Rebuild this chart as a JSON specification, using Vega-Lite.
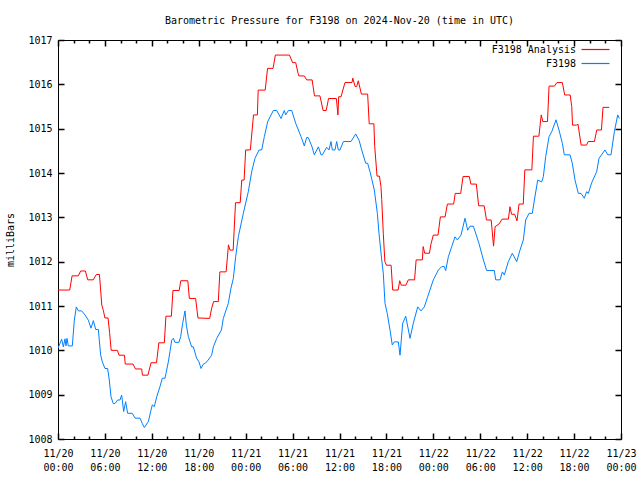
{
  "$schema": "https://vega.github.io/schema/vega-lite/v6.json",
  "width": 563,
  "height": 399,
  "autosize": "none",
  "padding": {"left": 58, "top": 40, "right": 19, "bottom": 41},
  "background": "white",
  "title": {"text": "Barometric Pressure for F3198 on 2024-Nov-20 (time in UTC)", "font": "DejaVu Sans Mono", "fontSize": 10, "fontWeight": "normal", "color": "black", "anchor": "middle", "offset": 9},
  "config": {
    "font": "DejaVu Sans Mono",
    "view": {"stroke": "black", "strokeWidth": 1},
    "axis": {"domain": false, "grid": false, "ticks": true, "tickColor": "#000000", "tickOpacity": 1, "labelColor": "black", "labelFont": "DejaVu Sans Mono", "labelFontSize": 10, "titleFont": "DejaVu Sans Mono", "titleFontSize": 10, "titleFontWeight": "normal", "titleColor": "black", "tickWidth": 1}
  },
  "data": {"values": [
    {"s":"F3198 Analysis","h":0,"v":1011.36},{"s":"F3198 Analysis","h":1.5,"v":1011.36},{"s":"F3198 Analysis","h":1.8,"v":1011.68},{"s":"F3198 Analysis","h":2.6,"v":1011.68},{"s":"F3198 Analysis","h":2.9,"v":1011.79},{"s":"F3198 Analysis","h":3.5,"v":1011.79},{"s":"F3198 Analysis","h":3.8,"v":1011.59},{"s":"F3198 Analysis","h":4.5,"v":1011.59},{"s":"F3198 Analysis","h":4.9,"v":1011.71},{"s":"F3198 Analysis","h":5.3,"v":1011.71},{"s":"F3198 Analysis","h":5.6,"v":1011.02},{"s":"F3198 Analysis","h":5.8,"v":1010.9},{"s":"F3198 Analysis","h":6.0,"v":1010.73},{"s":"F3198 Analysis","h":6.4,"v":1010.73},{"s":"F3198 Analysis","h":6.6,"v":1010.4},{"s":"F3198 Analysis","h":6.8,"v":1010.0},{"s":"F3198 Analysis","h":7.6,"v":1010.0},{"s":"F3198 Analysis","h":7.8,"v":1009.89},{"s":"F3198 Analysis","h":8.5,"v":1009.89},{"s":"F3198 Analysis","h":8.6,"v":1009.69},{"s":"F3198 Analysis","h":9.6,"v":1009.69},{"s":"F3198 Analysis","h":9.9,"v":1009.58},{"s":"F3198 Analysis","h":10.7,"v":1009.58},{"s":"F3198 Analysis","h":10.8,"v":1009.44},{"s":"F3198 Analysis","h":11.5,"v":1009.44},{"s":"F3198 Analysis","h":11.9,"v":1009.72},{"s":"F3198 Analysis","h":12.6,"v":1009.72},{"s":"F3198 Analysis","h":12.9,"v":1010.17},{"s":"F3198 Analysis","h":13.6,"v":1010.17},{"s":"F3198 Analysis","h":13.8,"v":1010.77},{"s":"F3198 Analysis","h":14.5,"v":1010.77},{"s":"F3198 Analysis","h":14.7,"v":1011.35},{"s":"F3198 Analysis","h":15.5,"v":1011.35},{"s":"F3198 Analysis","h":15.7,"v":1011.57},{"s":"F3198 Analysis","h":16.6,"v":1011.57},{"s":"F3198 Analysis","h":16.8,"v":1011.17},{"s":"F3198 Analysis","h":17.6,"v":1011.17},{"s":"F3198 Analysis","h":17.9,"v":1010.73},{"s":"F3198 Analysis","h":19.4,"v":1010.72},{"s":"F3198 Analysis","h":19.65,"v":1010.95},{"s":"F3198 Analysis","h":19.9,"v":1011.1},{"s":"F3198 Analysis","h":20.5,"v":1011.1},{"s":"F3198 Analysis","h":20.7,"v":1011.77},{"s":"F3198 Analysis","h":21.5,"v":1011.77},{"s":"F3198 Analysis","h":21.8,"v":1012.38},{"s":"F3198 Analysis","h":22.0,"v":1012.26},{"s":"F3198 Analysis","h":22.4,"v":1012.26},{"s":"F3198 Analysis","h":22.7,"v":1013.33},{"s":"F3198 Analysis","h":23.3,"v":1013.33},{"s":"F3198 Analysis","h":23.5,"v":1013.84},{"s":"F3198 Analysis","h":23.8,"v":1013.84},{"s":"F3198 Analysis","h":24.0,"v":1014.52},{"s":"F3198 Analysis","h":24.6,"v":1014.52},{"s":"F3198 Analysis","h":25.0,"v":1015.31},{"s":"F3198 Analysis","h":25.5,"v":1015.31},{"s":"F3198 Analysis","h":25.6,"v":1015.87},{"s":"F3198 Analysis","h":26.5,"v":1015.87},{"s":"F3198 Analysis","h":26.8,"v":1016.36},{"s":"F3198 Analysis","h":27.5,"v":1016.36},{"s":"F3198 Analysis","h":27.8,"v":1016.66},{"s":"F3198 Analysis","h":29.6,"v":1016.66},{"s":"F3198 Analysis","h":30.0,"v":1016.49},{"s":"F3198 Analysis","h":30.4,"v":1016.49},{"s":"F3198 Analysis","h":30.7,"v":1016.25},{"s":"F3198 Analysis","h":30.8,"v":1016.19},{"s":"F3198 Analysis","h":31.5,"v":1016.19},{"s":"F3198 Analysis","h":31.8,"v":1016.1},{"s":"F3198 Analysis","h":32.5,"v":1016.1},{"s":"F3198 Analysis","h":32.8,"v":1015.74},{"s":"F3198 Analysis","h":33.5,"v":1015.74},{"s":"F3198 Analysis","h":33.9,"v":1015.41},{"s":"F3198 Analysis","h":34.3,"v":1015.41},{"s":"F3198 Analysis","h":34.6,"v":1015.68},{"s":"F3198 Analysis","h":35.6,"v":1015.68},{"s":"F3198 Analysis","h":35.8,"v":1015.31},{"s":"F3198 Analysis","h":35.9,"v":1015.72},{"s":"F3198 Analysis","h":36.2,"v":1015.72},{"s":"F3198 Analysis","h":36.4,"v":1015.85},{"s":"F3198 Analysis","h":36.7,"v":1016.04},{"s":"F3198 Analysis","h":37.6,"v":1016.04},{"s":"F3198 Analysis","h":37.7,"v":1016.14},{"s":"F3198 Analysis","h":38.0,"v":1015.95},{"s":"F3198 Analysis","h":38.2,"v":1015.95},{"s":"F3198 Analysis","h":38.4,"v":1016.08},{"s":"F3198 Analysis","h":38.8,"v":1015.78},{"s":"F3198 Analysis","h":39.6,"v":1015.78},{"s":"F3198 Analysis","h":39.8,"v":1015.11},{"s":"F3198 Analysis","h":40.4,"v":1015.11},{"s":"F3198 Analysis","h":40.5,"v":1014.6},{"s":"F3198 Analysis","h":40.8,"v":1013.93},{"s":"F3198 Analysis","h":41.1,"v":1013.93},{"s":"F3198 Analysis","h":41.3,"v":1013.7},{"s":"F3198 Analysis","h":41.4,"v":1013.4},{"s":"F3198 Analysis","h":41.6,"v":1012.64},{"s":"F3198 Analysis","h":41.8,"v":1012.0},{"s":"F3198 Analysis","h":42.0,"v":1011.92},{"s":"F3198 Analysis","h":42.6,"v":1011.92},{"s":"F3198 Analysis","h":42.8,"v":1011.36},{"s":"F3198 Analysis","h":43.5,"v":1011.36},{"s":"F3198 Analysis","h":43.7,"v":1011.57},{"s":"F3198 Analysis","h":43.9,"v":1011.47},{"s":"F3198 Analysis","h":44.5,"v":1011.47},{"s":"F3198 Analysis","h":44.8,"v":1011.59},{"s":"F3198 Analysis","h":45.6,"v":1011.59},{"s":"F3198 Analysis","h":45.8,"v":1012.04},{"s":"F3198 Analysis","h":46.6,"v":1012.04},{"s":"F3198 Analysis","h":46.7,"v":1012.34},{"s":"F3198 Analysis","h":46.9,"v":1012.19},{"s":"F3198 Analysis","h":47.5,"v":1012.19},{"s":"F3198 Analysis","h":47.7,"v":1012.4},{"s":"F3198 Analysis","h":48.0,"v":1012.6},{"s":"F3198 Analysis","h":48.6,"v":1012.6},{"s":"F3198 Analysis","h":48.9,"v":1013.01},{"s":"F3198 Analysis","h":49.5,"v":1013.01},{"s":"F3198 Analysis","h":49.8,"v":1013.3},{"s":"F3198 Analysis","h":50.6,"v":1013.3},{"s":"F3198 Analysis","h":50.8,"v":1013.54},{"s":"F3198 Analysis","h":51.5,"v":1013.54},{"s":"F3198 Analysis","h":51.8,"v":1013.92},{"s":"F3198 Analysis","h":52.6,"v":1013.92},{"s":"F3198 Analysis","h":52.8,"v":1013.75},{"s":"F3198 Analysis","h":53.5,"v":1013.75},{"s":"F3198 Analysis","h":53.8,"v":1013.26},{"s":"F3198 Analysis","h":54.5,"v":1013.26},{"s":"F3198 Analysis","h":54.8,"v":1012.94},{"s":"F3198 Analysis","h":55.4,"v":1012.94},{"s":"F3198 Analysis","h":55.7,"v":1012.35},{"s":"F3198 Analysis","h":55.9,"v":1012.79},{"s":"F3198 Analysis","h":56.4,"v":1012.85},{"s":"F3198 Analysis","h":56.8,"v":1012.96},{"s":"F3198 Analysis","h":57.6,"v":1012.96},{"s":"F3198 Analysis","h":57.8,"v":1013.24},{"s":"F3198 Analysis","h":58.0,"v":1013.07},{"s":"F3198 Analysis","h":58.4,"v":1013.07},{"s":"F3198 Analysis","h":58.7,"v":1012.92},{"s":"F3198 Analysis","h":58.96,"v":1013.3},{"s":"F3198 Analysis","h":59.5,"v":1013.3},{"s":"F3198 Analysis","h":59.7,"v":1014.07},{"s":"F3198 Analysis","h":60.6,"v":1014.07},{"s":"F3198 Analysis","h":60.8,"v":1014.83},{"s":"F3198 Analysis","h":61.5,"v":1014.83},{"s":"F3198 Analysis","h":61.8,"v":1015.31},{"s":"F3198 Analysis","h":62.0,"v":1015.16},{"s":"F3198 Analysis","h":62.6,"v":1015.16},{"s":"F3198 Analysis","h":62.8,"v":1015.96},{"s":"F3198 Analysis","h":63.5,"v":1015.96},{"s":"F3198 Analysis","h":63.8,"v":1016.04},{"s":"F3198 Analysis","h":64.5,"v":1016.04},{"s":"F3198 Analysis","h":64.8,"v":1015.76},{"s":"F3198 Analysis","h":65.5,"v":1015.76},{"s":"F3198 Analysis","h":65.7,"v":1015.5},{"s":"F3198 Analysis","h":65.8,"v":1015.08},{"s":"F3198 Analysis","h":66.3,"v":1015.08},{"s":"F3198 Analysis","h":66.5,"v":1015.1},{"s":"F3198 Analysis","h":66.9,"v":1014.63},{"s":"F3198 Analysis","h":67.6,"v":1014.63},{"s":"F3198 Analysis","h":67.8,"v":1014.71},{"s":"F3198 Analysis","h":68.6,"v":1014.71},{"s":"F3198 Analysis","h":68.9,"v":1014.97},{"s":"F3198 Analysis","h":69.5,"v":1014.97},{"s":"F3198 Analysis","h":69.7,"v":1015.48},{"s":"F3198 Analysis","h":70.5,"v":1015.48},
    {"s":"F3198","h":0.0,"v":1010.05},{"s":"F3198","h":0.47,"v":1010.25},{"s":"F3198","h":0.68,"v":1010.08},{"s":"F3198","h":0.9,"v":1010.26},{"s":"F3198","h":1.02,"v":1010.1},{"s":"F3198","h":1.15,"v":1010.27},{"s":"F3198","h":1.32,"v":1010.1},{"s":"F3198","h":1.83,"v":1010.1},{"s":"F3198","h":2.09,"v":1010.68},{"s":"F3198","h":2.34,"v":1010.98},{"s":"F3198","h":2.6,"v":1010.89},{"s":"F3198","h":3.03,"v":1010.89},{"s":"F3198","h":3.45,"v":1010.8},{"s":"F3198","h":3.88,"v":1010.68},{"s":"F3198","h":4.22,"v":1010.5},{"s":"F3198","h":4.52,"v":1010.67},{"s":"F3198","h":4.82,"v":1010.47},{"s":"F3198","h":5.16,"v":1010.47},{"s":"F3198","h":5.28,"v":1010.23},{"s":"F3198","h":5.46,"v":1009.89},{"s":"F3198","h":5.67,"v":1009.74},{"s":"F3198","h":6.01,"v":1009.59},{"s":"F3198","h":6.35,"v":1009.59},{"s":"F3198","h":6.56,"v":1009.33},{"s":"F3198","h":6.78,"v":1008.95},{"s":"F3198","h":7.07,"v":1008.8},{"s":"F3198","h":7.29,"v":1008.8},{"s":"F3198","h":7.63,"v":1008.88},{"s":"F3198","h":7.93,"v":1008.88},{"s":"F3198","h":8.14,"v":1008.99},{"s":"F3198","h":8.4,"v":1008.62},{"s":"F3198","h":8.65,"v":1008.84},{"s":"F3198","h":8.91,"v":1008.58},{"s":"F3198","h":9.5,"v":1008.58},{"s":"F3198","h":9.85,"v":1008.47},{"s":"F3198","h":10.49,"v":1008.47},{"s":"F3198","h":10.78,"v":1008.35},{"s":"F3198","h":11.04,"v":1008.26},{"s":"F3198","h":11.55,"v":1008.39},{"s":"F3198","h":11.89,"v":1008.65},{"s":"F3198","h":12.06,"v":1008.77},{"s":"F3198","h":12.32,"v":1008.73},{"s":"F3198","h":12.62,"v":1008.95},{"s":"F3198","h":13.04,"v":1009.18},{"s":"F3198","h":13.34,"v":1009.37},{"s":"F3198","h":13.68,"v":1009.37},{"s":"F3198","h":13.81,"v":1009.48},{"s":"F3198","h":14.11,"v":1009.74},{"s":"F3198","h":14.32,"v":1009.97},{"s":"F3198","h":14.54,"v":1010.23},{"s":"F3198","h":14.75,"v":1010.27},{"s":"F3198","h":14.96,"v":1010.18},{"s":"F3198","h":15.47,"v":1010.18},{"s":"F3198","h":15.69,"v":1010.31},{"s":"F3198","h":15.94,"v":1010.61},{"s":"F3198","h":16.24,"v":1010.89},{"s":"F3198","h":16.41,"v":1010.57},{"s":"F3198","h":16.67,"v":1010.31},{"s":"F3198","h":17.09,"v":1010.08},{"s":"F3198","h":17.31,"v":1010.08},{"s":"F3198","h":17.73,"v":1009.82},{"s":"F3198","h":18.03,"v":1009.74},{"s":"F3198","h":18.29,"v":1009.59},{"s":"F3198","h":18.59,"v":1009.69},{"s":"F3198","h":18.85,"v":1009.71},{"s":"F3198","h":19.2,"v":1009.78},{"s":"F3198","h":19.65,"v":1009.89},{"s":"F3198","h":19.87,"v":1010.08},{"s":"F3198","h":20.3,"v":1010.27},{"s":"F3198","h":20.9,"v":1010.46},{"s":"F3198","h":21.14,"v":1010.72},{"s":"F3198","h":21.78,"v":1011.06},{"s":"F3198","h":22.12,"v":1011.4},{"s":"F3198","h":22.42,"v":1011.62},{"s":"F3198","h":22.72,"v":1012.11},{"s":"F3198","h":23.06,"v":1012.56},{"s":"F3198","h":23.7,"v":1013.09},{"s":"F3198","h":24.34,"v":1013.58},{"s":"F3198","h":24.77,"v":1014.03},{"s":"F3198","h":25.19,"v":1014.33},{"s":"F3198","h":25.71,"v":1014.52},{"s":"F3198","h":26.05,"v":1014.52},{"s":"F3198","h":26.39,"v":1014.82},{"s":"F3198","h":26.82,"v":1015.16},{"s":"F3198","h":27.54,"v":1015.41},{"s":"F3198","h":27.97,"v":1015.41},{"s":"F3198","h":28.52,"v":1015.23},{"s":"F3198","h":28.94,"v":1015.41},{"s":"F3198","h":29.12,"v":1015.31},{"s":"F3198","h":29.46,"v":1015.41},{"s":"F3198","h":29.89,"v":1015.41},{"s":"F3198","h":30.4,"v":1015.12},{"s":"F3198","h":31.08,"v":1014.82},{"s":"F3198","h":31.5,"v":1014.61},{"s":"F3198","h":31.8,"v":1014.8},{"s":"F3198","h":32.0,"v":1014.8},{"s":"F3198","h":32.45,"v":1014.61},{"s":"F3198","h":32.78,"v":1014.41},{"s":"F3198","h":33.3,"v":1014.59},{"s":"F3198","h":33.64,"v":1014.41},{"s":"F3198","h":33.81,"v":1014.41},{"s":"F3198","h":34.36,"v":1014.58},{"s":"F3198","h":34.66,"v":1014.52},{"s":"F3198","h":34.91,"v":1014.71},{"s":"F3198","h":35.08,"v":1014.52},{"s":"F3198","h":35.42,"v":1014.52},{"s":"F3198","h":35.64,"v":1014.71},{"s":"F3198","h":35.85,"v":1014.52},{"s":"F3198","h":36.06,"v":1014.52},{"s":"F3198","h":36.5,"v":1014.71},{"s":"F3198","h":37.47,"v":1014.71},{"s":"F3198","h":38.07,"v":1014.88},{"s":"F3198","h":38.5,"v":1014.74},{"s":"F3198","h":38.84,"v":1014.52},{"s":"F3198","h":39.35,"v":1014.22},{"s":"F3198","h":39.6,"v":1014.22},{"s":"F3198","h":39.9,"v":1014.03},{"s":"F3198","h":40.45,"v":1013.62},{"s":"F3198","h":40.84,"v":1013.09},{"s":"F3198","h":41.05,"v":1012.64},{"s":"F3198","h":41.4,"v":1012.04},{"s":"F3198","h":41.6,"v":1011.74},{"s":"F3198","h":41.82,"v":1011.06},{"s":"F3198","h":42.11,"v":1010.83},{"s":"F3198","h":42.46,"v":1010.46},{"s":"F3198","h":42.75,"v":1010.12},{"s":"F3198","h":43.01,"v":1010.19},{"s":"F3198","h":43.52,"v":1010.19},{"s":"F3198","h":43.74,"v":1009.89},{"s":"F3198","h":44.08,"v":1010.61},{"s":"F3198","h":44.47,"v":1010.77},{"s":"F3198","h":45.02,"v":1010.27},{"s":"F3198","h":45.44,"v":1010.61},{"s":"F3198","h":46.0,"v":1010.98},{"s":"F3198","h":46.42,"v":1010.89},{"s":"F3198","h":46.85,"v":1010.98},{"s":"F3198","h":47.28,"v":1011.21},{"s":"F3198","h":48.0,"v":1011.59},{"s":"F3198","h":48.64,"v":1011.81},{"s":"F3198","h":49.07,"v":1011.89},{"s":"F3198","h":49.4,"v":1011.89},{"s":"F3198","h":49.58,"v":1011.8},{"s":"F3198","h":49.92,"v":1012.11},{"s":"F3198","h":50.35,"v":1012.34},{"s":"F3198","h":50.77,"v":1012.56},{"s":"F3198","h":51.07,"v":1012.49},{"s":"F3198","h":51.54,"v":1012.6},{"s":"F3198","h":52.05,"v":1012.98},{"s":"F3198","h":52.39,"v":1012.71},{"s":"F3198","h":52.69,"v":1012.8},{"s":"F3198","h":53.12,"v":1012.8},{"s":"F3198","h":53.84,"v":1012.41},{"s":"F3198","h":54.4,"v":1012.04},{"s":"F3198","h":54.82,"v":1011.8},{"s":"F3198","h":55.8,"v":1011.8},{"s":"F3198","h":55.98,"v":1011.59},{"s":"F3198","h":56.53,"v":1011.59},{"s":"F3198","h":56.83,"v":1011.77},{"s":"F3198","h":57.08,"v":1011.7},{"s":"F3198","h":57.59,"v":1012.0},{"s":"F3198","h":58.1,"v":1012.19},{"s":"F3198","h":58.66,"v":1012.0},{"s":"F3198","h":59.08,"v":1012.26},{"s":"F3198","h":59.51,"v":1012.49},{"s":"F3198","h":59.81,"v":1012.94},{"s":"F3198","h":60.24,"v":1013.09},{"s":"F3198","h":60.66,"v":1013.09},{"s":"F3198","h":60.92,"v":1013.39},{"s":"F3198","h":61.35,"v":1013.84},{"s":"F3198","h":61.86,"v":1013.8},{"s":"F3198","h":62.07,"v":1013.92},{"s":"F3198","h":62.37,"v":1014.37},{"s":"F3198","h":62.8,"v":1014.82},{"s":"F3198","h":63.14,"v":1014.93},{"s":"F3198","h":63.69,"v":1015.2},{"s":"F3198","h":64.07,"v":1014.97},{"s":"F3198","h":64.5,"v":1014.67},{"s":"F3198","h":64.75,"v":1014.41},{"s":"F3198","h":65.48,"v":1014.41},{"s":"F3198","h":65.77,"v":1014.22},{"s":"F3198","h":66.12,"v":1013.84},{"s":"F3198","h":66.54,"v":1013.54},{"s":"F3198","h":66.89,"v":1013.54},{"s":"F3198","h":67.31,"v":1013.43},{"s":"F3198","h":67.61,"v":1013.58},{"s":"F3198","h":67.82,"v":1013.54},{"s":"F3198","h":68.25,"v":1013.78},{"s":"F3198","h":68.89,"v":1014.03},{"s":"F3198","h":69.19,"v":1014.33},{"s":"F3198","h":69.95,"v":1014.52},{"s":"F3198","h":70.3,"v":1014.41},{"s":"F3198","h":70.72,"v":1014.41},{"s":"F3198","h":71.15,"v":1014.93},{"s":"F3198","h":71.58,"v":1015.31},{"s":"F3198","h":71.79,"v":1015.23}
  ]},
  "resolve": {"axis": {"x": "independent", "y": "independent"}},
  "layer": [
    {
      "mark": {"type": "line", "strokeWidth": 1, "clip": true},
      "encoding": {
        "x": {"field": "h", "type": "quantitative", "scale": {"domain": [0, 72], "nice": false, "zero": false},
              "axis": {"orient": "bottom", "offset": -6, "values": [0,6,12,18,24,30,36,42,48,54,60,66,72], "ticks": true, "tickSize": 6, "tickWidth": 1.5, "labelPadding": 9, "labelLineHeight": 14, "labelBaseline": "top", "labelFlush": false, "labelOverlap": false, "title": null,
                       "labelExpr": "['11/' + (20 + floor(datum.value/24)), ((datum.value % 24) < 10 ? '0' : '') + (datum.value % 24) + ':00']"}},
        "y": {"field": "v", "type": "quantitative", "scale": {"domain": [1008, 1017], "nice": false, "zero": false},
              "axis": {"orient": "left", "offset": -6, "values": [1008,1009,1010,1011,1012,1013,1014,1015,1016,1017], "ticks": true, "tickSize": 6, "tickWidth": 1.5, "labelPadding": 6, "format": "d", "title": "milliBars", "titlePadding": 12}},
        "color": {"field": "s", "type": "nominal", "scale": {"domain": ["F3198 Analysis", "F3198"], "range": ["#ff0000", "#0080ff"]},
                  "legend": {"title": null, "orient": "none", "legendX": 532, "legendY": 4, "symbolType": "M-3,0L3,0", "symbolSize": 87, "symbolStrokeWidth": 1.2, "symbolFillColor": "transparent", "labelAlign": "right", "labelOffset": -25, "labelFont": "DejaVu Sans Mono", "labelFontSize": 10, "labelColor": "black", "rowPadding": 3, "labelLimit": 300,
                             "encode": {"symbols": {"update": {"stroke": {"scale": "color", "field": "value"}, "fill": {"value": "transparent"}}}}}}
      }
    },
    {
      "mark": {"type": "line", "opacity": 0},
      "encoding": {
        "x": {"field": "h", "type": "quantitative", "scale": {"domain": [0, 72], "nice": false, "zero": false},
              "axis": {"orient": "bottom", "offset": -3, "values": [2,4,8,10,14,16,20,22,26,28,32,34,38,40,44,46,50,52,56,58,62,64,68,70], "ticks": true, "tickSize": 3, "tickWidth": 1.5, "labels": false, "title": null}},
        "y": {"field": "v", "type": "quantitative", "scale": {"domain": [1008, 1017], "nice": false, "zero": false},
              "axis": {"orient": "right", "offset": -6, "values": [1008,1009,1010,1011,1012,1013,1014,1015,1016,1017], "ticks": true, "tickSize": 6, "tickWidth": 1.5, "labels": false, "title": null}},
        "detail": {"field": "s"}
      }
    },
    {
      "mark": {"type": "line", "opacity": 0},
      "encoding": {
        "x": {"field": "h", "type": "quantitative", "scale": {"domain": [0, 72], "nice": false, "zero": false},
              "axis": {"orient": "top", "offset": -6, "values": [0,6,12,18,24,30,36,42,48,54,60,66,72], "ticks": true, "tickSize": 6, "tickWidth": 1.5, "labels": false, "title": null}},
        "detail": {"field": "s"}
      }
    },
    {
      "mark": {"type": "line", "opacity": 0},
      "encoding": {
        "x": {"field": "h", "type": "quantitative", "scale": {"domain": [0, 72], "nice": false, "zero": false},
              "axis": {"orient": "top", "offset": -3, "values": [2,4,8,10,14,16,20,22,26,28,32,34,38,40,44,46,50,52,56,58,62,64,68,70], "ticks": true, "tickSize": 3, "tickWidth": 1.5, "labels": false, "title": null}},
        "detail": {"field": "s"}
      }
    }
  ]
}
